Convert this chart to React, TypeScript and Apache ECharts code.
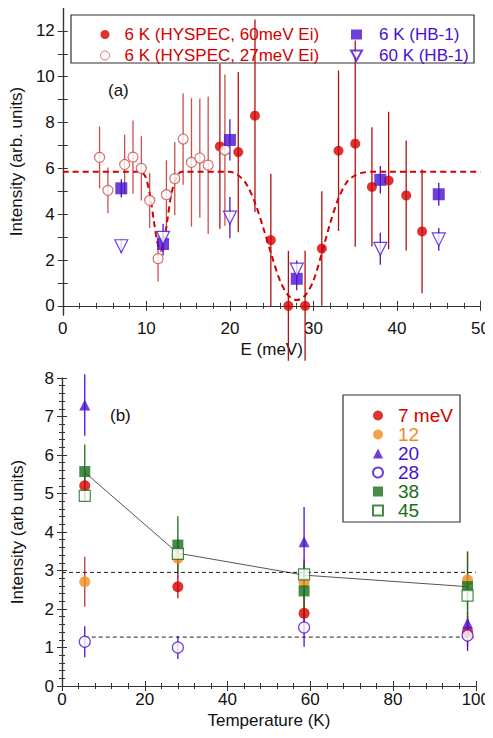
import React, { useEffect, useRef } from 'react';
import * as echarts from 'echarts';

// panel (a)
const hyspec60E = [18.8, 21, 23, 24.9, 27, 29, 31, 33, 35, 37, 39, 41.1, 43];
const hyspec60I = [6.96, 6.71, 8.3, 2.87, 0, 0, 2.5, 6.77, 7.08, 5.19, 5.47, 4.82, 3.25];
const hyspec60Err = [3.6, 3.5, 4.2, 2.9, 2.4, 2.4, 2.5, 3.5, 4.5, 2.6, 3.0, 2.4, 2.7];
const hyspec27E = [4.4, 5.4, 7.4, 8.4, 9.4, 10.4, 11.4, 12.4, 13.4, 14.4, 15.4, 16.4, 17.4, 19.4];
const hyspec27I = [6.48, 5.04, 6.17, 6.49, 6.0, 4.6, 2.06, 4.85, 5.55, 7.28, 6.26, 6.45, 6.14, 6.8];
const hyspec27Err = [1.35, 1.0, 1.3, 1.6, 1.4, 1.2, 1.0, 1.5, 1.6, 2.0, 2.8, 2.6, 3.0, 3.3];
const hb6E = [7, 12, 20, 28, 38, 45];
const hb6I = [5.13, 2.7, 7.24, 1.18, 5.5, 4.87];
const hb6Err = [0.4, 0.5, 0.9, 0.5, 0.6, 0.5];
const hb60I = [2.6, 2.97, 3.85, 1.58, 2.49, 2.9];
const hb60Err = [0.3, 0.6, 0.9, 0.4, 0.7, 0.5];
const fitE = [0, 9, 9.8, 10.4, 10.9, 11.3, 11.7, 12.1, 12.5, 13.0, 13.6, 14.2, 20, 21, 22, 23, 24, 25, 26, 27, 28, 29, 30, 31, 32, 33, 34, 35, 36, 37, 50];
const fitI = [5.85, 5.85, 5.7, 4.9, 3.7, 2.8, 2.4, 2.8, 3.7, 4.9, 5.6, 5.85, 5.85, 5.7, 5.3, 4.5, 3.4, 2.2, 1.1, 0.45, 0.25, 0.45, 1.1, 2.3, 3.6, 4.7, 5.4, 5.7, 5.82, 5.85, 5.85];

// panel (b)
const temps = [5.5, 28, 58.5, 98];
const e7 = [5.2, 2.58, 1.89, 1.41];
const e7Err = [0.4, 0.3, 0.5, 0.4];
const e12 = [2.71, 3.32, 2.69, 2.75];
const e12Err = [0.65, 0.5, 0.6, 0.75];
const e20T = [5.5, 58.5, 98];
const e20 = [7.3, 3.75, 1.63];
const e20Err = [0.8, 0.9, 0.3];
const e28 = [1.15, 1.0, 1.52, 1.31];
const e28Err = [0.4, 0.3, 0.5, 0.4];
const e38 = [5.57, 3.66, 2.47, 2.58];
const e38Err = [0.7, 0.75, 0.7, 0.9];
const e45 = [4.94, 3.43, 2.9, 2.35];
const trendI = [5.55, 3.45, 2.88, 2.58];
const dashHi = 2.95;
const dashLo = 1.27;

const RED = '#d40000';
const LRED = '#c85050';
const BLUE = '#4a10d0';
const ORANGE = '#f08c1e';
const GREEN = '#1a6e1a';
const FONT = 'Liberation Sans';
const DOWN_TRI = 'path://M0,0 L10,0 L5,9 Z';

function pts(xs: number[], ys: number[]) {
  return xs.map((x, i) => [x, ys[i]]);
}

function errSeries(xs: number[], ys: number[], es: number[], color: string, xi: number, yi: number) {
  return {
    type: 'custom',
    xAxisIndex: xi,
    yAxisIndex: yi,
    silent: true,
    data: xs.map((x, i) => [x, ys[i] - es[i], ys[i] + es[i]]),
    renderItem: (_p: any, api: any) => {
      const a = api.coord([api.value(0), api.value(1)]);
      const b = api.coord([api.value(0), api.value(2)]);
      return { type: 'line', shape: { x1: a[0], y1: a[1], x2: b[0], y2: b[1] }, style: { stroke: color, lineWidth: 1.3 } };
    },
    z: 1,
  };
}

function scat(name: string, data: number[][], symbol: string, size: number, color: string, open: boolean, xi: number, yi: number) {
  return {
    name,
    type: 'scatter',
    xAxisIndex: xi,
    yAxisIndex: yi,
    symbol,
    symbolSize: size,
    data,
    itemStyle: open ? { color: '#fff', borderColor: color, borderWidth: 1.2 } : { color },
    z: 3,
  };
}

const tickStyle = { inside: true, length: 5, lineStyle: { color: '#333' } };
const lineStyle = { lineStyle: { color: '#333', width: 1.2 } };
const lab = { color: '#111', fontSize: 17, fontFamily: FONT };

export default function App() {
  const ref = useRef<HTMLDivElement>(null);
  useEffect(() => {
    if (!ref.current) return;
    const chart = echarts.init(ref.current, null, { renderer: 'svg' });
    const yTicksA = [0, 1, 2, 3, 4, 5, 6, 7, 8, 9, 10, 11, 12];
    const xBase = (gi: number, min: number, max: number, interval: number, name: string, show: boolean) => ({
      type: 'value', gridIndex: gi, min, max, interval, position: show ? 'bottom' : 'top',
      name: show ? name : '', nameLocation: 'middle', nameGap: 26, nameTextStyle: lab,
      axisLine: { show: true, ...lineStyle }, axisTick: tickStyle, minorTick: { show: true, splitNumber: 5, length: 3 },
      axisLabel: { show: show, ...lab, margin: 5 }, splitLine: { show: false },
    });
    chart.setOption({
      animation: false,
      textStyle: { fontFamily: FONT },
      grid: [
        { left: 62, right: 12, top: 8, height: 307 },
        { left: 62, right: 12, top: 378, height: 308 },
      ],
      xAxis: [
        xBase(0, 0, 50, 10, 'E (meV)', true),
        xBase(0, 0, 50, 10, '', false),
        xBase(1, 0, 100, 20, 'Temperature (K)', true),
        xBase(1, 0, 100, 20, '', false),
      ],
      yAxis: [
        {
          type: 'value', gridIndex: 0, min: -0.4, max: 13, name: 'Intensity (arb. units)', nameLocation: 'middle', nameGap: 36, nameTextStyle: lab,
          axisLine: { show: true, ...lineStyle }, axisTick: { ...tickStyle, customValues: yTicksA },
          axisLabel: { ...lab, customValues: [0, 2, 4, 6, 8, 10, 12], margin: 8 }, splitLine: { show: false },
        },
        {
          type: 'value', gridIndex: 0, min: -0.4, max: 13, position: 'right',
          axisLine: { show: true, ...lineStyle }, axisTick: { ...tickStyle, customValues: yTicksA },
          axisLabel: { show: false, customValues: [] }, splitLine: { show: false },
        },
        {
          type: 'value', gridIndex: 1, min: 0, max: 8, interval: 1, name: 'Intensity (arb units)', nameLocation: 'middle', nameGap: 36, nameTextStyle: lab,
          axisLine: { show: true, ...lineStyle }, axisTick: tickStyle, minorTick: { show: true, splitNumber: 5, length: 3 },
          axisLabel: { ...lab, margin: 8 }, splitLine: { show: false },
        },
        {
          type: 'value', gridIndex: 1, min: 0, max: 8, interval: 1, position: 'right',
          axisLine: { show: true, ...lineStyle }, axisTick: tickStyle, minorTick: { show: true, splitNumber: 5, length: 3 },
          axisLabel: { show: false }, splitLine: { show: false },
        },
      ],
      legend: [
        {
          left: 95, top: 21, orient: 'vertical', itemGap: 4, itemWidth: 9, itemHeight: 9,
          textStyle: { fontSize: 17, color: RED, fontFamily: FONT, padding: [0, 0, 0, 10] },
          data: [
            { name: '6 K (HYSPEC, 60meV Ei)' },
            { name: '6 K (HYSPEC, 27meV Ei)', itemStyle: { borderWidth: 1 } },
          ],
        },
        {
          left: 345, top: 21, orient: 'vertical', itemGap: 4, itemWidth: 11, itemHeight: 10,
          textStyle: { fontSize: 17, color: BLUE, fontFamily: FONT, padding: [0, 0, 0, 12] },
          data: [
            { name: '6 K (HB-1)' },
            { name: '60 K (HB-1)', icon: DOWN_TRI },
          ],
        },
        {
          left: 367, top: 401, orient: 'vertical', itemGap: 0, itemWidth: 10, itemHeight: 10,
          textStyle: { fontSize: 19, fontFamily: FONT, padding: [0, 0, 0, 10] },
          data: [
            { name: '7 meV', textStyle: { color: RED } },
            { name: '12', textStyle: { color: ORANGE } },
            { name: '20', textStyle: { color: BLUE } },
            { name: '28', textStyle: { color: BLUE } },
            { name: '38', textStyle: { color: GREEN } },
            { name: '45', textStyle: { color: GREEN } },
          ],
        },
      ],
      graphic: [
        { type: 'rect', shape: { x: 71, y: 15, width: 403, height: 48 }, style: { fill: 'none', stroke: '#333', lineWidth: 1.2 } },
        { type: 'rect', shape: { x: 343, y: 395, width: 117, height: 127 }, style: { fill: 'none', stroke: '#333', lineWidth: 1.2 } },
        { type: 'text', x: 108, y: 82, style: { text: '(a)', fontSize: 17, fontFamily: FONT, fill: '#111' } },
        { type: 'text', x: 110, y: 407, style: { text: '(b)', fontSize: 17, fontFamily: FONT, fill: '#111' } },
      ],
      series: [
        // panel a
        {
          type: 'line', xAxisIndex: 0, yAxisIndex: 0, data: pts(fitE, fitI), smooth: 0.3, showSymbol: false,
          lineStyle: { color: RED, width: 2, type: [6, 4] }, z: 2, silent: true,
        },
        errSeries(hyspec27E, hyspec27I, hyspec27Err, LRED, 0, 0),
        errSeries(hyspec60E, hyspec60I, hyspec60Err, '#b01010', 0, 0),
        errSeries(hb6E, hb6I, hb6Err, BLUE, 0, 0),
        errSeries(hb6E, hb60I, hb60Err, BLUE, 0, 0),
        scat('6 K (HYSPEC, 60meV Ei)', pts(hyspec60E, hyspec60I), 'circle', 10, RED, false, 0, 0),
        scat('6 K (HYSPEC, 27meV Ei)', pts(hyspec27E, hyspec27I), 'circle', 10, LRED, true, 0, 0),
        scat('6 K (HB-1)', pts(hb6E, hb6I), 'rect', 12, BLUE, false, 0, 0),
        scat('60 K (HB-1)', pts(hb6E, hb60I), DOWN_TRI, 13, BLUE, true, 0, 0),
        // panel b
        {
          type: 'line', xAxisIndex: 2, yAxisIndex: 2, data: pts(temps, trendI), showSymbol: false,
          lineStyle: { color: '#555', width: 1 }, z: 2, silent: true,
        },
        {
          type: 'line', xAxisIndex: 2, yAxisIndex: 2, data: [[0, dashHi], [100, dashHi]], showSymbol: false,
          lineStyle: { color: '#222', width: 1, type: [4, 3] }, z: 2, silent: true,
        },
        {
          type: 'line', xAxisIndex: 2, yAxisIndex: 2, data: [[5.5, dashLo], [100, dashLo]], showSymbol: false,
          lineStyle: { color: '#222', width: 1, type: [4, 3] }, z: 2, silent: true,
        },
        errSeries(temps, e7, e7Err, RED, 2, 2),
        errSeries(temps, e12, e12Err, '#c0303a', 2, 2),
        errSeries(e20T, e20, e20Err, BLUE, 2, 2),
        errSeries(temps, e28, e28Err, BLUE, 2, 2),
        errSeries(temps, e38, e38Err, GREEN, 2, 2),
        scat('7 meV', pts(temps, e7), 'circle', 11, RED, false, 2, 2),
        scat('12', pts(temps, e12), 'circle', 11, ORANGE, false, 2, 2),
        scat('20', pts(e20T, e20), 'triangle', 11, BLUE, false, 2, 2),
        scat('28', pts(temps, e28), 'circle', 11, BLUE, true, 2, 2),
        scat('38', pts(temps, e38), 'rect', 11, GREEN, false, 2, 2),
        scat('45', pts(temps, e45), 'rect', 11, GREEN, true, 2, 2),
      ],
    });
    return () => chart.dispose();
  }, []);
  return <div ref={ref} style={{ width: 493, height: 738, margin: -8 }} />;
}
